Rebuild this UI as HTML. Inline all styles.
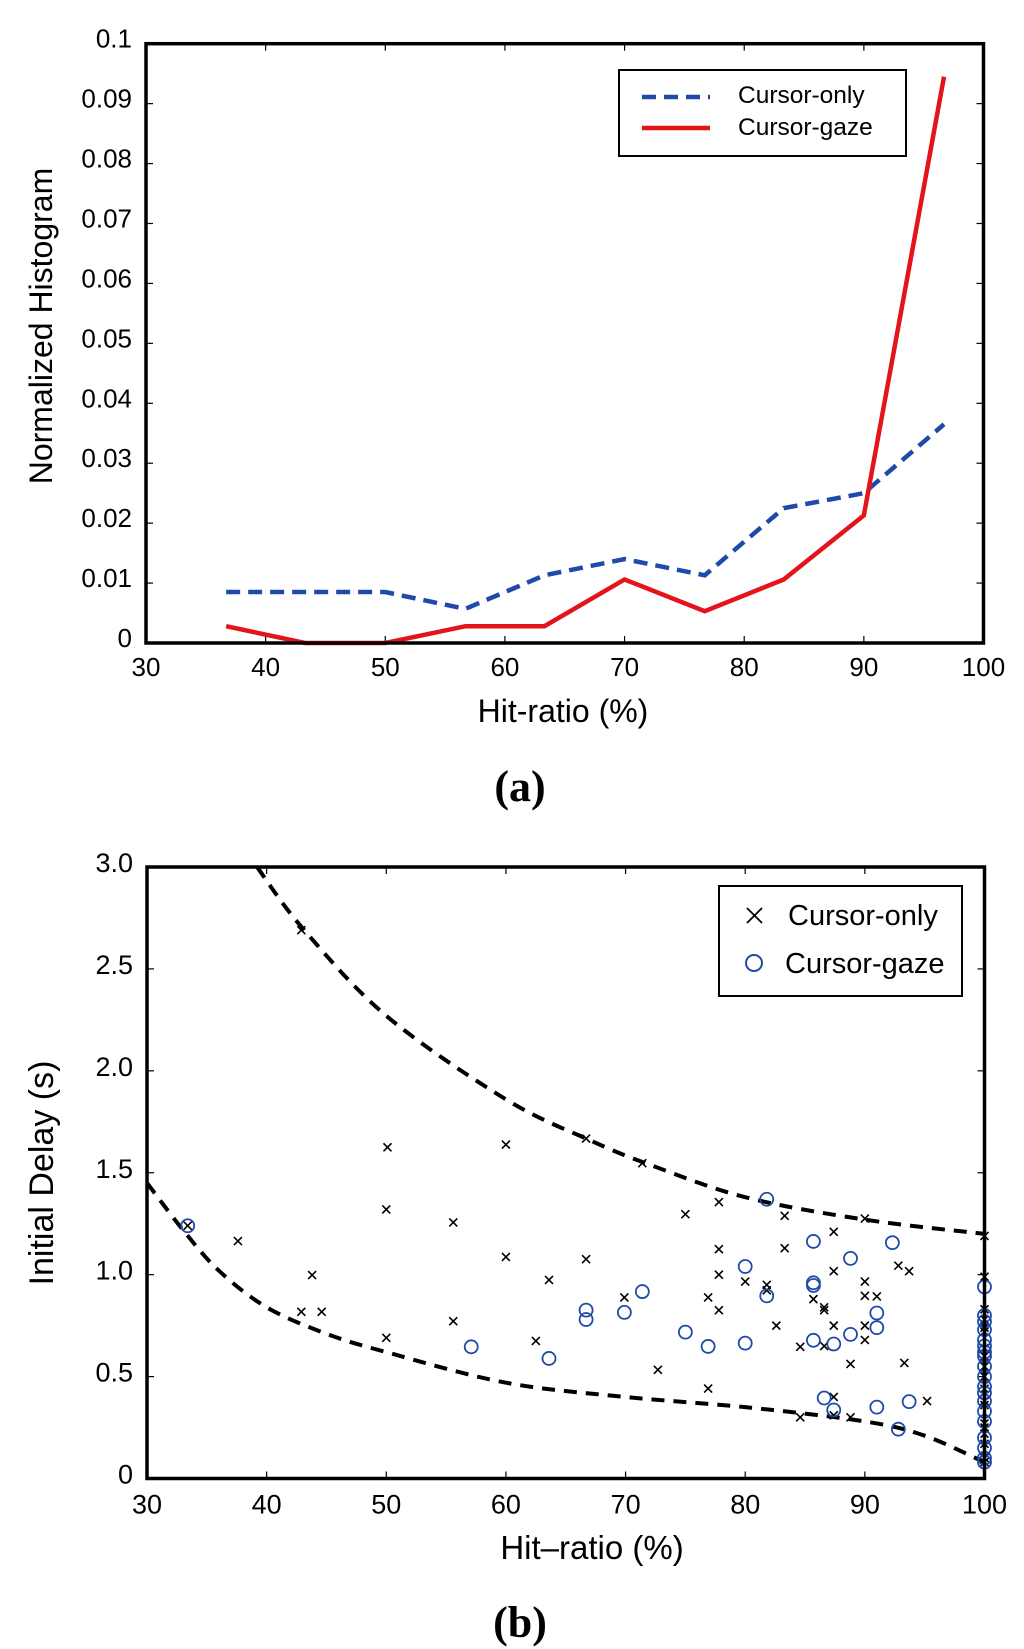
<!DOCTYPE html>
<html><head><meta charset="utf-8"><style>
html,body{margin:0;padding:0;background:#fff;}
svg{display:block;font-family:"Liberation Sans",sans-serif;}
</style></head><body>
<svg id="s" width="1024" height="1649" viewBox="0 0 1024 1649"></svg>
<script>
// ---- Chart (a) data ----
const aX = [36.7,43.3,50,56.7,63.3,70,76.7,83.3,90,96.7];
const aCursorOnly = [0.0085,0.0085,0.0085,0.0057,0.0113,0.014,0.0113,0.0225,0.025,0.0365];
const aCursorGaze = [0.0028,0,0,0.0028,0.0028,0.0106,0.0053,0.0106,0.0213,0.0945];
const aXTicks = [30,40,50,60,70,80,90,100];
const aYTicks = [0,0.01,0.02,0.03,0.04,0.05,0.06,0.07,0.08,0.09,0.1];
const aYLabels = ["0","0.01","0.02","0.03","0.04","0.05","0.06","0.07","0.08","0.09","0.1"];
// ---- Chart (b) data ----
const bOnlyX = [42.9,33.4,37.6,43.8,42.9,44.6,50.1,50,50,55.6,55.6,60,60,62.5,63.6,66.7,66.7,69.9,71.4,72.7,75,76.9,76.9,77.8,77.8,77.8,77.8,80,81.8,81.8,82.6,83.3,83.3,84.6,84.6,85.7,86.6,86.6,86.6,87.4,87.4,87.4,87.4,87.4,88.8,88.8,90,90,90,90,90,91,92.8,93.7,93.3,95.2,100,100,100,100,100,100,100,100,100,100,100,100,100,100,100,100,100,100,100];
const bOnlyY = [2.69,1.24,1.165,0.998,0.818,0.818,1.625,1.32,0.69,1.256,0.772,1.638,1.087,0.675,0.974,1.668,1.076,0.888,1.547,0.533,1.297,0.888,0.441,1.356,1.125,1.0,0.826,0.966,0.95,0.923,0.75,1.289,1.13,0.646,0.30,0.88,0.84,0.826,0.65,1.21,1.017,0.75,0.40,0.31,0.562,0.30,1.275,0.966,0.896,0.75,0.68,0.893,1.044,1.017,0.567,0.38,1.19,0.99,0.83,0.78,0.74,0.72,0.64,0.6,0.55,0.5,0.44,0.38,0.36,0.27,0.25,0.22,0.17,0.1,0.08];
const bGazeX = [33.4,57.1,63.6,66.7,66.7,69.9,71.4,75,76.9,80,80,81.8,81.8,85.7,85.7,85.7,85.7,86.6,87.4,87.4,88.8,88.8,91,91,91,92.3,92.8,93.7,100,100,100,100,100,100,100,100,100,100,100,100,100,100,100,100,100,100,100];
const bGazeY = [1.24,0.646,0.589,0.826,0.78,0.815,0.917,0.718,0.648,1.04,0.664,1.37,0.896,1.163,0.96,0.947,0.678,0.395,0.66,0.336,1.08,0.707,0.812,0.74,0.35,1.157,0.242,0.377,0.94,0.8,0.77,0.73,0.68,0.65,0.62,0.6,0.55,0.5,0.45,0.42,0.38,0.33,0.28,0.2,0.15,0.1,0.08];
const bUpperX = [39.2,43,50,60,67,72,80,90,100];
const bUpperY = [3.0,2.7,2.27,1.86,1.66,1.54,1.38,1.27,1.2];
const bLowerX = [30,33,36,40,45,50,60,70,80,90,95,100];
const bLowerY = [1.45,1.22,1.02,0.84,0.71,0.62,0.47,0.4,0.35,0.28,0.21,0.08];
const bXTicks = [30,40,50,60,70,80,90,100];
const bYTicks = [0,0.5,1.0,1.5,2.0,2.5,3.0];
const bYLabels = ["0","0.5","1.0","1.5","2.0","2.5","3.0"];

const NS="http://www.w3.org/2000/svg", S=document.getElementById('s');
function el(t,a,p){const e=document.createElementNS(NS,t);for(const k in a)e.setAttribute(k,a[k]);(p||S).appendChild(e);return e;}
function txt(s,a,p){const e=el('text',a,p);e.textContent=s;return e;}
function smooth(pts){
  let d='M'+pts[0][0]+','+pts[0][1];
  for(let i=0;i<pts.length-1;i++){
    const p0=pts[i-1]||pts[i],p1=pts[i],p2=pts[i+1],p3=pts[i+2]||p2;
    const c1=[p1[0]+(p2[0]-p0[0])/6,p1[1]+(p2[1]-p0[1])/6];
    const c2=[p2[0]-(p3[0]-p1[0])/6,p2[1]-(p3[1]-p1[1])/6];
    d+=`C${c1[0]},${c1[1]} ${c2[0]},${c2[1]} ${p2[0]},${p2[1]}`;
  }
  return d;
}

// ===== Chart (a) =====
const A={l:146,r:983.5,t:43.7,b:643};
const ax=v=>A.l+(v-30)/70*(A.r-A.l), ay=v=>A.b-v/0.1*(A.b-A.t);
const ga=el('g',{});


aXTicks.forEach(v=>{
  const x=ax(v);
  el('line',{x1:x,x2:x,y1:A.b,y2:A.b-7,stroke:'#000','stroke-width':1.2},ga);
  el('line',{x1:x,x2:x,y1:A.t,y2:A.t+7,stroke:'#000','stroke-width':1.2},ga);
  const t=txt(String(v),{x:x,y:A.b+33,'text-anchor':'middle','font-size':26},ga);
  
  
});
aYTicks.forEach((v,i)=>{
  const y=ay(v);
  el('line',{x1:A.l,x2:A.l+7,y1:y,y2:y,stroke:'#000','stroke-width':1.2},ga);
  el('line',{x1:A.r,x2:A.r-7,y1:y,y2:y,stroke:'#000','stroke-width':1.2},ga);
  const t=txt(aYLabels[i],{x:A.l-14,y:y+4,'text-anchor':'end','font-size':26},ga);
  
  
});
const pa1=el('polyline',{points:aX.map((x,i)=>ax(x)+','+ay(aCursorOnly[i])).join(' '),fill:'none',stroke:'#1f4aa8','stroke-width':4.5,'stroke-dasharray':'14,8'},ga);


const pa2=el('polyline',{points:aX.map((x,i)=>ax(x)+','+ay(aCursorGaze[i])).join(' '),fill:'none',stroke:'#e4141b','stroke-width':4.5},ga);


const fa=el('rect',{x:A.l,y:A.t,width:A.r-A.l,height:A.b-A.t,fill:'none',stroke:'#000','stroke-width':3.5},ga);


const la=el('g',{},ga);


el('rect',{x:619,y:70,width:287,height:86,fill:'#fff',stroke:'#000','stroke-width':2},la);
el('line',{x1:642,x2:710,y1:97,y2:97,stroke:'#1f4aa8','stroke-width':4.5,'stroke-dasharray':'14,8'},la);
el('line',{x1:642,x2:710,y1:128,y2:128,stroke:'#e4141b','stroke-width':4.5},la);
txt('Cursor-only',{x:738,y:103,'font-size':24.5},la);
txt('Cursor-gaze',{x:738,y:135,'font-size':24.5},la);
const xta=txt('Hit-ratio (%)',{x:563,y:722,'text-anchor':'middle','font-size':32},ga);


const yta=txt('Normalized Histogram',{x:0,y:0,'text-anchor':'middle','font-size':32,transform:'translate(52,326) rotate(-90)'},ga);


const capa=txt('(a)',{x:520,y:801,'text-anchor':'middle','font-size':44,'font-weight':'bold','font-family':'"Liberation Serif",serif'},ga);



// ===== Chart (b) =====
const B={l:147,r:984.5,t:867,b:1478.5};
const bx=v=>B.l+(v-30)/70*(B.r-B.l), by=v=>B.b-v/3*(B.b-B.t);
const gb=el('g',{});


bXTicks.forEach(v=>{
  const x=bx(v);
  el('line',{x1:x,x2:x,y1:B.b,y2:B.b-7,stroke:'#000','stroke-width':1.2},gb);
  el('line',{x1:x,x2:x,y1:B.t,y2:B.t+7,stroke:'#000','stroke-width':1.2},gb);
  const t=txt(String(v),{x:x,y:B.b+35,'text-anchor':'middle','font-size':27},gb);
  
  
});
bYTicks.forEach((v,i)=>{
  const y=by(v);
  el('line',{x1:B.l,x2:B.l+7,y1:y,y2:y,stroke:'#000','stroke-width':1.2},gb);
  el('line',{x1:B.r,x2:B.r-7,y1:y,y2:y,stroke:'#000','stroke-width':1.2},gb);
  const t=txt(bYLabels[i],{x:B.l-14,y:y+5,'text-anchor':'end','font-size':27},gb);
  
  
});
const cu=el('path',{d:smooth(bUpperX.map((x,i)=>[bx(x),by(bUpperY[i])])),fill:'none',stroke:'#000','stroke-width':4,'stroke-dasharray':'13,9'},gb);


const cl=el('path',{d:smooth(bLowerX.map((x,i)=>[bx(x),by(bLowerY[i])])),fill:'none',stroke:'#000','stroke-width':4,'stroke-dasharray':'13,9'},gb);


bOnlyX.forEach((v,i)=>{
  const x=bx(v),y=by(bOnlyY[i]),d=4;
  const m=el('path',{d:`M${x-d},${y-d}L${x+d},${y+d}M${x-d},${y+d}L${x+d},${y-d}`,stroke:'#000','stroke-width':1.6},gb);
  
  
});
bGazeX.forEach((v,i)=>{
  const m=el('circle',{cx:bx(v),cy:by(bGazeY[i]),r:6.5,fill:'none',stroke:'#1f4aa8','stroke-width':1.8},gb);
  
  
});
const fb=el('rect',{x:B.l,y:B.t,width:B.r-B.l,height:B.b-B.t,fill:'none',stroke:'#000','stroke-width':3.5},gb);


const lb=el('g',{},gb);


el('rect',{x:719,y:886,width:243,height:110,fill:'#fff',stroke:'#000','stroke-width':2},lb);
el('path',{d:'M747,908L762,923M747,923L762,908',stroke:'#000','stroke-width':1.8},lb);
el('circle',{cx:754,cy:963,r:8,fill:'none',stroke:'#1f4aa8','stroke-width':2},lb);
txt('Cursor-only',{x:788,y:925,'font-size':29},lb);
txt('Cursor-gaze',{x:785,y:973,'font-size':29},lb);
const xtb=txt('Hit\u2013ratio (%)',{x:592,y:1559,'text-anchor':'middle','font-size':33},gb);


const ytb=txt('Initial Delay (s)',{x:0,y:0,'text-anchor':'middle','font-size':34,transform:'translate(53,1173) rotate(-90)'},gb);


const capb=txt('(b)',{x:520,y:1637,'text-anchor':'middle','font-size':44,'font-weight':'bold','font-family':'"Liberation Serif",serif'},gb);


</script>
</body></html>
